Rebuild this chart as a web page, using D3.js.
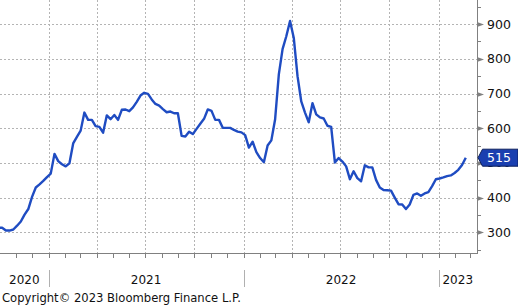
<!DOCTYPE html>
<html>
<head>
<meta charset="utf-8">
<script src="https://cdn.jsdelivr.net/npm/d3@7"></script>
<style>
  html, body { margin: 0; padding: 0; background: #fff; }
  svg { display: block; font-family: "DejaVu Sans", Tahoma, sans-serif; }
</style>
</head>
<body>
<svg id="chart" width="518" height="305"></svg>
<script>
// weekly series, first week ending 2020-09-29
const startDate = new Date(2020, 8, 29);
const values = [
  313, 313, 305, 305, 308, 319, 331, 351, 367, 402,
  429, 438, 448, 459, 469, 526, 505, 496, 490, 499,
  556, 575, 593, 645, 624, 624, 606, 604, 587, 637,
  626, 638, 624, 653, 654, 649, 660, 676, 694, 702,
  699, 683, 670, 665, 655, 646, 648, 643, 643, 578,
  576, 590, 583, 598, 613, 627, 654, 650, 624, 624,
  601, 601, 601, 595, 590, 588, 580, 544, 561, 531,
  514, 502, 550, 565, 625, 755, 828, 865, 909, 860,
  750, 677, 645, 617, 672, 640, 631, 628, 607, 604,
  501, 514, 504, 490, 453, 476, 456, 447, 493, 487,
  487, 451, 429, 422, 421, 420, 400, 381, 380, 367,
  380, 408, 412, 405, 412, 416, 433, 453, 455, 458,
  462, 464, 471, 480, 494, 515
];
const yTicks = [300, 400, 500, 600, 700, 800, 900];
const yMinor = [250, 350, 450, 550, 650, 750, 850, 950];
const years = ["2020", "2021", "2022", "2023"];
const lastLabel = "515";
const copyright = "Copyright\u00a9 2023 Bloomberg Finance L.P.";

const data = values.map((v, i) => ({ date: d3.timeWeek.offset(startDate, i), value: v }));

const svg = d3.select("#chart");
const plotW = 477, plotH = 253;

const x = d3.scaleTime()
  .domain([new Date(2020, 9, 2), new Date(2023, 2, 14)])
  .range([0, plotW]);
const y = d3.scaleLinear()
  .domain([240.3, 969.5])
  .range([plotH, 0]);

const gridColor = "#b4b4b4";
const axisColor = "#808080";

// grid
const grid = svg.append("g");
grid.selectAll("line.h")
  .data(yTicks)
  .enter().append("line")
  .attr("x1", 0).attr("x2", plotW)
  .attr("y1", d => Math.round(y(d)) + 0.5).attr("y2", d => Math.round(y(d)) + 0.5)
  .attr("stroke", gridColor).attr("stroke-dasharray", "2,2");

const quarters = d3.timeMonth.every(3).range(new Date(2020, 9, 1), new Date(2023, 2, 1));
grid.selectAll("line.v")
  .data(quarters)
  .enter().append("line")
  .attr("x1", d => Math.round(x(d)) + 0.5).attr("x2", d => Math.round(x(d)) + 0.5)
  .attr("y1", 0).attr("y2", plotH)
  .attr("stroke", gridColor).attr("stroke-dasharray", "2,2");

// series
svg.append("clipPath").attr("id", "clip")
  .append("rect").attr("x", 0).attr("y", 0).attr("width", plotW).attr("height", plotH);

svg.append("path")
  .datum(data)
  .attr("fill", "none")
  .attr("stroke", "#1f4cc2")
  .attr("stroke-width", 2.4)
  .attr("stroke-linejoin", "round")
  .attr("clip-path", "url(#clip)")
  .attr("d", d3.line().x(d => x(d.date)).y(d => y(d.value)));

// bottom axis
svg.append("line")
  .attr("x1", 0).attr("x2", plotW + 1)
  .attr("y1", plotH + 0.5).attr("y2", plotH + 0.5)
  .attr("stroke", axisColor);
const months = d3.timeMonth.range(new Date(2020, 9, 1), new Date(2023, 2, 2));
svg.selectAll("line.mt")
  .data(months)
  .enter().append("line")
  .attr("x1", d => Math.round(x(d)) + 0.5).attr("x2", d => Math.round(x(d)) + 0.5)
  .attr("y1", plotH).attr("y2", plotH + 5)
  .attr("stroke", axisColor);

// year labels
const yearBounds = [x.domain()[0], new Date(2021, 0, 1), new Date(2022, 0, 1), new Date(2023, 0, 1), x.domain()[1]];
svg.selectAll("line.ysep")
  .data(yearBounds.slice(1, 4))
  .enter().append("line")
  .attr("x1", d => Math.round(x(d)) + 0.5).attr("x2", d => Math.round(x(d)) + 0.5)
  .attr("y1", 270).attr("y2", 287)
  .attr("stroke", "#b0b0b0");
svg.selectAll("text.year")
  .data(years)
  .enter().append("text")
  .attr("x", (d, i) => (x(yearBounds[i]) + x(yearBounds[i + 1])) / 2)
  .attr("y", 284)
  .attr("text-anchor", "middle")
  .attr("font-size", 12)
  .attr("fill", "#111")
  .text(d => d);

svg.append("text")
  .attr("x", 2).attr("y", 302)
  .attr("font-size", 11.6)
  .attr("fill", "#111")
  .text(copyright);

// right axis
svg.append("line")
  .attr("x1", plotW + 0.5).attr("x2", plotW + 0.5)
  .attr("y1", 0).attr("y2", plotH + 1)
  .attr("stroke", axisColor);
svg.selectAll("line.minor")
  .data(yMinor.filter(d => y(d) > 0 && y(d) < plotH))
  .enter().append("line")
  .attr("x1", plotW).attr("x2", plotW + 4)
  .attr("y1", d => Math.round(y(d)) + 0.5).attr("y2", d => Math.round(y(d)) + 0.5)
  .attr("stroke", axisColor);
svg.selectAll("path.tri")
  .data(yTicks)
  .enter().append("path")
  .attr("d", d => {
    const yy = Math.round(y(d)) + 0.5;
    return `M${plotW},${yy - 2.5}L${plotW + 7},${yy}L${plotW},${yy + 2.5}Z`;
  })
  .attr("fill", axisColor);
// the 500 label sits under the last-value tag, as in the original
svg.selectAll("text.ytick")
  .data(yTicks)
  .enter().append("text")
  .attr("x", 487)
  .attr("y", d => y(d))
  .attr("dy", "0.36em")
  .attr("font-size", 12.5)
  .attr("fill", "#111")
  .text(d => d);

// last value tag
const lastY = y(values[values.length - 1]);
const tag = svg.append("g");
tag.append("path")
  .attr("d", `M478,${lastY}L482.5,${lastY - 8.5}L518,${lastY - 8.5}L518,${lastY + 8.5}L482.5,${lastY + 8.5}Z`)
  .attr("fill", "#1a3fb0")
  .attr("stroke", "#0d1f5c")
  .attr("stroke-width", 1);
tag.append("text")
  .attr("x", 487)
  .attr("y", lastY)
  .attr("dy", "0.36em")
  .attr("font-size", 12.5)
  .attr("fill", "#fff")
  .text(lastLabel);
</script>
</body>
</html>
